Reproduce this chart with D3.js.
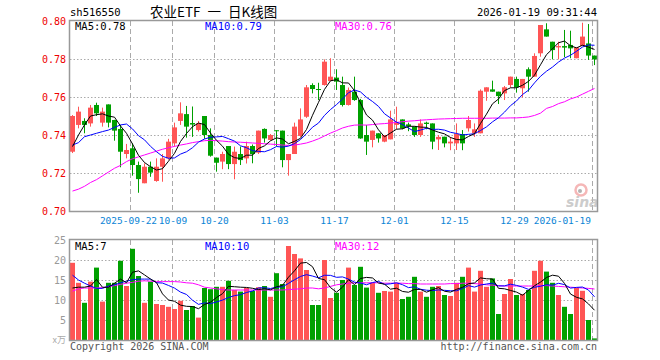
<!DOCTYPE html>
<html><head><meta charset="utf-8">
<script src="https://cdn.jsdelivr.net/npm/d3@7/dist/d3.min.js"></script>
<style>body{margin:0;background:#fff}svg{display:block}</style>
</head><body><svg id="c" width="660" height="360"></svg>
<script>
// ---------- data ----------
const dates = [
"2025-09-08","2025-09-09","2025-09-10","2025-09-11","2025-09-12","2025-09-15","2025-09-16","2025-09-17","2025-09-18","2025-09-19",
"2025-09-22","2025-09-23","2025-09-24","2025-09-25","2025-09-26","2025-09-29","2025-09-30","2025-10-09","2025-10-10","2025-10-13",
"2025-10-14","2025-10-15","2025-10-16","2025-10-17","2025-10-20","2025-10-21","2025-10-22","2025-10-23","2025-10-24","2025-10-27",
"2025-10-28","2025-10-29","2025-10-30","2025-10-31","2025-11-03","2025-11-04","2025-11-05","2025-11-06","2025-11-07","2025-11-10",
"2025-11-11","2025-11-12","2025-11-13","2025-11-14","2025-11-17","2025-11-18","2025-11-19","2025-11-20","2025-11-21","2025-11-24",
"2025-11-25","2025-11-26","2025-11-27","2025-11-28","2025-12-01","2025-12-02","2025-12-03","2025-12-04","2025-12-05","2025-12-08",
"2025-12-09","2025-12-10","2025-12-11","2025-12-12","2025-12-15","2025-12-16","2025-12-17","2025-12-18","2025-12-19","2025-12-22",
"2025-12-23","2025-12-24","2025-12-25","2025-12-26","2025-12-29","2025-12-30","2025-12-31","2026-01-05","2026-01-06","2026-01-07",
"2026-01-08","2026-01-09","2026-01-12","2026-01-13","2026-01-14","2026-01-15","2026-01-16","2026-01-19"];

const open = [0.7312,0.7453,0.7474,0.7461,0.7558,0.7465,0.7561,0.7479,0.7432,0.7300,
0.7330,0.7242,0.7146,0.7233,0.7158,0.7233,0.7277,0.7356,0.7474,0.7510,
0.7463,0.7426,0.7500,0.7400,0.7281,0.7260,0.7342,0.7247,0.7300,0.7277,
0.7342,0.7307,0.7432,0.7374,0.7425,0.7423,0.7268,0.7300,0.7395,0.7496,
0.7663,0.7642,0.7663,0.7684,0.7702,0.7663,0.7558,0.7628,0.7584,0.7400,
0.7374,0.7409,0.7365,0.7377,0.7453,0.7482,0.7456,0.7444,0.7400,0.7465,
0.7461,0.7377,0.7391,0.7356,0.7356,0.7405,0.7435,0.7409,0.7409,0.7628,
0.7640,0.7628,0.7619,0.7663,0.7695,0.7646,0.7746,0.7707,0.7830,0.7956,
0.7891,0.7861,0.7868,0.7874,0.7804,0.7868,0.7882,0.7818];
const high = [0.7505,0.7549,0.7488,0.7558,0.7570,0.7544,0.7561,0.7480,0.7453,0.7353,
0.7356,0.7260,0.7251,0.7260,0.7277,0.7300,0.7380,0.7465,0.7572,0.7553,
0.7550,0.7474,0.7500,0.7435,0.7281,0.7312,0.7342,0.7339,0.7339,0.7365,
0.7350,0.7423,0.7435,0.7405,0.7425,0.7423,0.7300,0.7465,0.7540,0.7663,
0.7672,0.7675,0.7798,0.7804,0.7746,0.7707,0.7650,0.7707,0.7590,0.7453,
0.7423,0.7409,0.7400,0.7528,0.7549,0.7482,0.7465,0.7444,0.7482,0.7470,
0.7461,0.7400,0.7391,0.7390,0.7461,0.7426,0.7500,0.7461,0.7640,0.7651,
0.7686,0.7628,0.7658,0.7707,0.7707,0.7695,0.7756,0.7830,0.7979,0.7988,
0.7891,0.7891,0.7953,0.7949,0.7861,0.7991,0.7984,0.7818];
const low = [0.7305,0.7435,0.7409,0.7444,0.7500,0.7444,0.7440,0.7370,0.7230,0.7277,
0.7186,0.7096,0.7146,0.7180,0.7154,0.7154,0.7270,0.7339,0.7453,0.7386,
0.7390,0.7418,0.7380,0.7286,0.7207,0.7220,0.7220,0.7167,0.7242,0.7250,
0.7251,0.7300,0.7360,0.7370,0.7340,0.7230,0.7186,0.7300,0.7390,0.7490,
0.7619,0.7584,0.7660,0.7684,0.7637,0.7550,0.7555,0.7580,0.7380,0.7295,
0.7335,0.7360,0.7362,0.7377,0.7430,0.7430,0.7420,0.7390,0.7390,0.7430,
0.7325,0.7321,0.7335,0.7320,0.7321,0.7320,0.7418,0.7390,0.7409,0.7580,
0.7628,0.7563,0.7584,0.7650,0.7623,0.7598,0.7628,0.7707,0.7812,0.7918,
0.7798,0.7798,0.7810,0.7804,0.7804,0.7868,0.7795,0.7768];
const close = [0.7500,0.7523,0.7453,0.7544,0.7514,0.7523,0.7465,0.7423,0.7312,0.7321,
0.7242,0.7168,0.7233,0.7202,0.7233,0.7277,0.7365,0.7440,0.7514,0.7444,
0.7455,0.7461,0.7400,0.7291,0.7254,0.7300,0.7247,0.7312,0.7268,0.7342,
0.7300,0.7423,0.7382,0.7400,0.7420,0.7268,0.7300,0.7444,0.7482,0.7651,
0.7642,0.7640,0.7786,0.7707,0.7681,0.7558,0.7637,0.7584,0.7382,0.7365,
0.7423,0.7382,0.7400,0.7482,0.7465,0.7435,0.7447,0.7400,0.7461,0.7458,
0.7365,0.7390,0.7356,0.7365,0.7405,0.7356,0.7479,0.7430,0.7633,0.7651,
0.7628,0.7605,0.7651,0.7707,0.7651,0.7695,0.7707,0.7816,0.7979,0.7918,
0.7847,0.7868,0.7860,0.7856,0.7861,0.7918,0.7818,0.7798];
// volume in 万
const volume = [19.3,14.3,9.3,14.6,18.1,9.6,14.3,14.3,19.8,13.5,
22.8,16.0,9.3,14.6,9.0,8.75,8.3,7.75,9.8,7.5,
8.5,5.6,13.0,12.7,13.3,13.3,14.8,12.5,12.1,13.0,
12.25,13.2,13.5,10.8,16.7,14.0,23.5,21.5,20.4,17.5,
8.75,8.75,20.0,10.5,11.8,15.0,18.1,13.75,18.3,13.1,
14.3,11.8,12.25,12.1,14.3,10.25,10.8,15.8,12.1,10.8,
13.3,13.5,11.25,11.0,14.3,15.8,18.1,12.1,17.3,13.3,
15.4,6.5,11.5,15.25,11.25,11.5,12.5,17.3,19.8,17.1,
14.3,11.25,8.3,6.5,13.0,12.3,5.0,0.4];

const priceMA5Head = [0.7339,0.7400,0.7453,0.7500];
const priceMA10Head = [0.7347,0.7360,0.7391,0.7400,0.7409,0.7418,0.7426,0.7440,0.7453];
const priceMA30 = [0.7105,0.7115,0.7130,0.7150,0.7165,0.7185,0.7205,0.7225,0.7240,0.7260,
0.7275,0.7285,0.7295,0.7305,0.7315,0.7325,0.7333,0.7340,0.7347,0.7353,
0.7360,0.7365,0.7370,0.7372,0.7370,0.7368,0.7365,0.7363,0.7362,0.7360,
0.7358,0.7356,0.7354,0.7352,0.7350,0.7347,0.7345,0.7347,0.7352,0.7358,
0.7368,0.7380,0.7395,0.7410,0.7423,0.7437,0.7446,0.7452,0.7453,0.7452,
0.7455,0.7458,0.7460,0.7463,0.7466,0.7470,0.7473,0.7475,0.7478,0.7480,
0.7482,0.7484,0.7485,0.7486,0.7487,0.7488,0.7488,0.7488,0.7488,0.7488,
0.7489,0.7489,0.7489,0.7490,0.7490,0.7492,0.7495,0.7503,0.7515,0.7540,
0.7550,0.7565,0.7575,0.7590,0.7600,0.7615,0.7630,0.7645];
const volMA5Head = [13.0,13.2,13.2,13.5];
const volMA10Head = [16.2,15.0,14.2,13.5,12.9,12.9,13.5,13.8,14.3];
const volMA30 = [12.2,12.8,13.0,13.0,13.0,13.1,13.3,13.6,13.9,14.2,
14.4,14.7,14.8,14.7,14.6,14.6,14.6,14.6,14.5,14.3,
14.2,13.8,13.2,13.0,12.8,12.6,12.5,12.5,12.5,12.5,
12.5,12.5,12.5,12.5,12.5,12.5,12.6,12.7,12.8,13.0,
13.0,12.8,13.0,13.4,13.8,14.0,14.2,14.3,14.3,14.3,
14.3,14.3,14.2,14.2,14.2,14.2,14.1,14.1,14.0,14.0,
14.0,14.0,14.0,14.1,14.1,14.2,14.2,14.1,14.0,13.8,
13.7,13.6,13.5,13.5,13.5,13.5,13.5,13.5,13.6,13.6,
13.5,13.4,13.3,13.2,13.1,13.0,12.9,12.75];

const priceTicks = [0.70,0.72,0.74,0.76,0.78,0.80];
const volTicks = [5,10,15,20,25];
const dateTicks = ["2025-09-22","2025-10-09","2025-10-20","2025-11-03","2025-11-17","2025-12-01","2025-12-15","2025-12-29","2026-01-19"];
const dateTickLabels = ["2025-09-22","10-09","10-20","11-03","11-17","12-01","12-15","12-29","2026-01-19"];
const priceLegend = ["MA5:0.78","MA10:0.79","MA30:0.76"];
const volLegend = ["MA5:7","MA10:10","MA30:12"];
const titleCode = "sh516550";
const titleName = "农业ETF 一 日K线图";
const timeStamp = "2026-01-19 09:31:44";

// ---------- helpers ----------
function rolling(vals, n, head){
  return vals.map((v,i)=> i < n-1 ? head[i] : d3.mean(vals.slice(i-n+1,i+1)));
}
const pMA5 = rolling(close,5,priceMA5Head);
const pMA10 = rolling(close,10,priceMA10Head);
const vMA5 = rolling(volume,5,volMA5Head);
const vMA10 = rolling(volume,10,volMA10Head);

const RED="#ff5555", GREEN="#00a000", GRID="#aaaaaa", FRAME="#999999";
const MONO="'DejaVu Sans Mono', monospace";
const svg = d3.select("#c");

const L=70, R=598, PT=21, PB=211, VT=240, VB=340;
const x = d3.scaleBand().domain(dates).range([L,R]).padding(0);
const bw = x.bandwidth()-1;
const cx = d => x(d)+bw/2;
const y = d3.scaleLinear().domain([0.70,0.80]).range([PB,PT]);
const yv = d3.scaleLinear().domain([0,25]).range([VB,VT]);

// ---------- header ----------
svg.append("text").attr("x",70).attr("y",16).attr("font-family",MONO).attr("font-size",10.5).attr("fill","#000").text(titleCode);
svg.append("text").attr("x",150).attr("y",17).attr("font-family","'Noto Sans CJK SC'").attr("font-size",13.5)
  .attr("word-spacing",4).attr("fill","#000").attr("xml:space","preserve").text(titleName);
svg.append("text").attr("x",597).attr("y",16).attr("text-anchor","end").attr("font-family",MONO).attr("font-size",10.5).attr("fill","#000").text(timeStamp);

// ---------- grids ----------
const gp = svg.append("g");
gp.selectAll("line.h").data(priceTicks.slice(1,-1)).join("line")
  .attr("x1",L).attr("x2",R).attr("y1",d=>Math.round(y(d))+0.5).attr("y2",d=>Math.round(y(d))+0.5)
  .attr("stroke",GRID).attr("stroke-dasharray","1.5,2");
gp.selectAll("line.hv").data(volTicks.slice(0,-1)).join("line")
  .attr("x1",L).attr("x2",R).attr("y1",d=>Math.round(yv(d))+0.5).attr("y2",d=>Math.round(yv(d))+0.5)
  .attr("stroke",GRID).attr("stroke-dasharray","1.5,2");
[[PT,PB],[VT,VB]].forEach(([t,b])=>{
  gp.append("g").selectAll("line").data(dateTicks).join("line")
    .attr("x1",d=>x(d)+0.5).attr("x2",d=>x(d)+0.5).attr("y1",t).attr("y2",b)
    .attr("stroke",GRID).attr("stroke-dasharray","5,3");
});

// ---------- y labels ----------
svg.append("g").selectAll("text").data(priceTicks).join("text")
  .attr("x",66).attr("y",d=>y(d)+3.5).attr("text-anchor","end")
  .attr("font-family",MONO).attr("font-size",10).attr("fill","#ee0000").text(d=>d.toFixed(2));
svg.append("g").selectAll("text").data(volTicks).join("text")
  .attr("x",66).attr("y",d=>yv(d)+3.5).attr("text-anchor","end")
  .attr("font-family",MONO).attr("font-size",10).attr("fill","#999").text(d=>d);
svg.append("text").attr("x",66).attr("y",yv(0)+3).attr("text-anchor","end")
  .attr("font-family","'Noto Sans CJK SC'").attr("font-size",9).attr("fill","#aaa").text("x万");

// ---------- date labels ----------
const last = dateTicks.length-1;
svg.append("g").selectAll("text").data(dateTicks).join("text")
  .attr("x",(d,i)=> i===0 ? x(d)-1.5 : i===1 ? x(d)+1 : i===last ? x(d)-1 : x(d)+0.5)
  .attr("y",224)
  .attr("text-anchor",(d,i)=> i===last ? "end" : "middle")
  .attr("font-family",MONO).attr("font-size",9.5).attr("fill","#0a84d6").text((d,i)=>dateTickLabels[i]);

// ---------- sina watermark ----------
const wm = svg.append("g").attr("opacity",0.75);
wm.append("circle").attr("cx",581).attr("cy",190).attr("r",5.5).attr("fill","none").attr("stroke","#f2a0a0").attr("stroke-width",2.5);
wm.append("circle").attr("cx",580).attr("cy",191).attr("r",2).attr("fill","#999");
wm.append("text").attr("x",566).attr("y",207).attr("font-family","'DejaVu Sans'").attr("font-style","italic").attr("font-weight","bold")
  .attr("font-size",14).attr("fill","#bbb").text("sina");

// ---------- candles ----------
const idx = d3.range(dates.length);
const up = i => close[i] >= open[i];
const cg = svg.append("g");
cg.selectAll("line").data(idx).join("line")
  .attr("x1",i=>cx(dates[i])).attr("x2",i=>cx(dates[i]))
  .attr("y1",i=>y(high[i])).attr("y2",i=>y(low[i]))
  .attr("stroke",i=>up(i)?RED:GREEN).attr("stroke-width",1);
cg.selectAll("rect").data(idx).join("rect")
  .attr("x",i=>x(dates[i])).attr("width",bw)
  .attr("y",i=>y(Math.max(open[i],close[i])))
  .attr("height",i=>Math.max(1,Math.abs(y(open[i])-y(close[i]))))
  .attr("fill",i=>up(i)?RED:GREEN);

// ---------- volume bars ----------
svg.append("g").selectAll("rect").data(idx).join("rect")
  .attr("x",i=>x(dates[i])).attr("width",bw)
  .attr("y",i=>yv(volume[i])).attr("height",i=>yv(0)-yv(volume[i]))
  .attr("fill",i=>up(i)?RED:GREEN);

// ---------- MA lines ----------
function drawLine(vals, scale, color){
  svg.append("path").datum(vals)
    .attr("d", d3.line().x((v,i)=>cx(dates[i])).y(v=>scale(v)))
    .attr("fill","none").attr("stroke",color).attr("stroke-width",1);
}
drawLine(priceMA30,y,"#ff00ff");
drawLine(pMA10,y,"#0000ff");
drawLine(pMA5,y,"#000000");
drawLine(volMA30,yv,"#ff00ff");
drawLine(vMA10,yv,"#0000ff");
drawLine(vMA5,yv,"#000000");

// ---------- frames ----------
svg.append("rect").attr("x",L-0.5).attr("y",PT-0.5).attr("width",R-L).attr("height",PB-PT+1)
  .attr("fill","none").attr("stroke",FRAME).attr("stroke-width",1.5);
svg.append("rect").attr("x",L-0.5).attr("y",VT-0.5).attr("width",R-L).attr("height",VB-VT+1)
  .attr("fill","none").attr("stroke",FRAME).attr("stroke-width",1.5);

// ---------- legends ----------
const legColors = ["#000","#0000ff","#ff00ff"], legX=[75,205,335];
svg.append("g").selectAll("text").data(priceLegend).join("text")
  .attr("x",(d,i)=>legX[i]).attr("y",30).attr("font-family",MONO).attr("font-size",10.5)
  .attr("fill",(d,i)=>legColors[i]).text(d=>d);
svg.append("g").selectAll("text").data(volLegend).join("text")
  .attr("x",(d,i)=>legX[i]).attr("y",250).attr("font-family",MONO).attr("font-size",10.5)
  .attr("fill",(d,i)=>legColors[i]).text(d=>d);

// ---------- footer ----------
svg.append("text").attr("x",70).attr("y",350).attr("font-family",MONO).attr("font-size",10).attr("fill","#555").text("Copyright 2026 SINA.COM");
svg.append("text").attr("x",597).attr("y",350).attr("text-anchor","end").attr("font-family",MONO).attr("font-size",10).attr("fill","#555").text("http://finance.sina.com.cn");
</script></body></html>
